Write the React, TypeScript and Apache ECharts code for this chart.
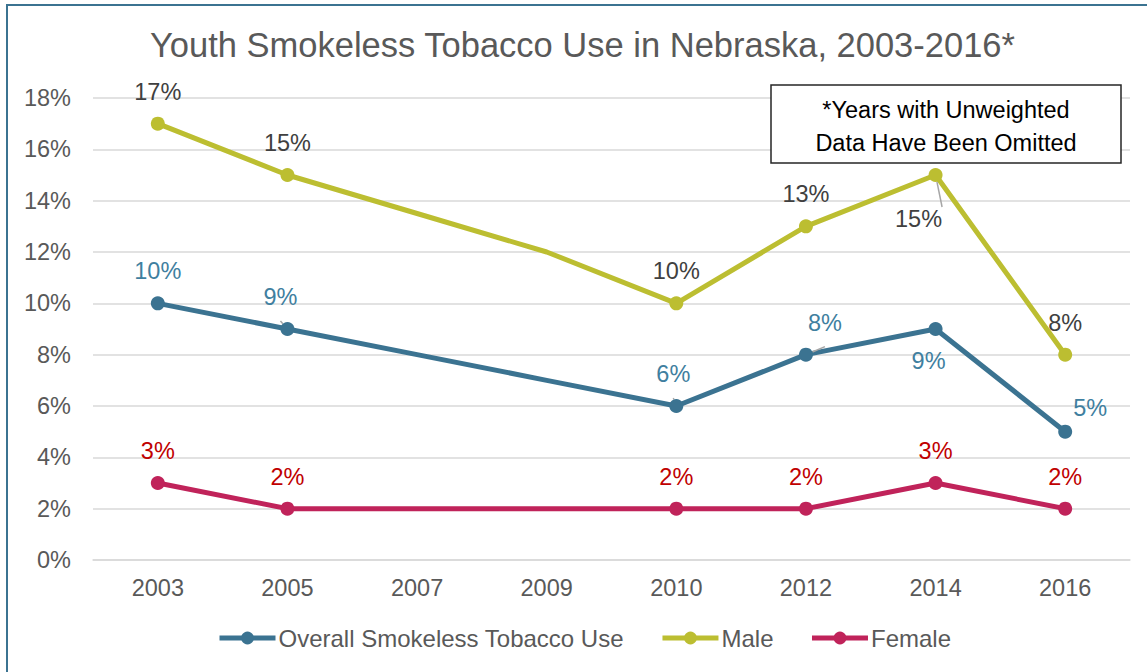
import React, { useEffect, useRef } from "react";
import * as echarts from "echarts";

const years = ["2003", "2005", "2007", "2009", "2010", "2012", "2014", "2016"];
const overall = [10, 9, 8, 7, 6, 8, 9, 5];
const male = [17, 15, 13.5, 12, 10, 13, 15, 8];
const female = [3, 2, 2, 2, 2, 2, 3, 2];
// years with no marker / label (line passes through only)
const hiddenYears = ["2007", "2009"];
const yTicks = [0, 2, 4, 6, 8, 10, 12, 14, 16, 18];

const titleText = "Youth Smokeless Tobacco Use in Nebraska, 2003-2016*";
const noteLines = ["*Years with Unweighted", "Data Have Been Omitted"];
const seriesNames = ["Overall Smokeless Tobacco Use", "Male", "Female"];

const FONT = "'Liberation Sans', Arial, Helvetica, sans-serif";
const C_OVERALL = "#3B7391";
const C_MALE = "#BCBE31";
const C_FEMALE = "#C0235A";
const FS = 23.5;

type LabelTweak = { pos?: string; offset?: [number, number]; line?: boolean };

const overallTweaks: Record<string, LabelTweak> = {
  "2005": { offset: [-7, 0], line: true },
  "2010": { offset: [-3, 0], line: true },
  "2012": { offset: [19, 0], line: true },
  "2014": { pos: "bottom", offset: [-7, 0] },
  "2016": { offset: [25, 8] },
};
const maleTweaks: Record<string, LabelTweak> = {
  "2014": { pos: "bottom", offset: [-17, 12], line: true },
};
const femaleTweaks: Record<string, LabelTweak> = {};

function buildData(values: number[], tweaks: Record<string, LabelTweak>) {
  return values.map((v, i) => {
    const yr = years[i];
    if (hiddenYears.includes(yr)) {
      return { value: v, symbol: "none", label: { show: false } };
    }
    const t = tweaks[yr];
    if (!t) return { value: v };
    const item: any = { value: v, label: {} as any };
    if (t.pos) item.label.position = t.pos;
    if (t.offset) item.label.offset = t.offset;
    if (t.line) item.labelLine = { show: true, lineStyle: { color: "#A6A6A6", width: 1.5 } };
    return item;
  });
}

function makeSeries(name: string, color: string, labelColor: string, values: number[], tweaks: Record<string, LabelTweak>) {
  return {
    name,
    type: "line",
    data: buildData(values, tweaks),
    symbol: "circle",
    symbolSize: 14,
    lineStyle: { color, width: 5 },
    itemStyle: { color },
    label: {
      show: true,
      position: "top",
      distance: 13,
      formatter: (p: any) => `${Math.round(p.value)}%`,
      color: labelColor,
      fontSize: FS,
      fontFamily: FONT,
    },
    emphasis: { disabled: true },
  };
}

export default function App() {
  const ref = useRef<HTMLDivElement>(null);
  useEffect(() => {
    document.body.style.margin = "0";
    if (!ref.current) return;
    const chart = echarts.init(ref.current, null, { renderer: "svg" });
    chart.setOption({
      animation: false,
      backgroundColor: "#ffffff",
      textStyle: { fontFamily: FONT },
      title: {
        text: titleText,
        left: 145,
        top: 22,
        textStyle: { color: "#595959", fontSize: 34.5, fontWeight: "normal", fontFamily: FONT },
      },
      grid: { left: 93, right: 17, top: 98, bottom: 112 },
      xAxis: {
        type: "category",
        data: years,
        boundaryGap: true,
        axisLine: { show: true, lineStyle: { color: "#D9D9D9", width: 1.5 } },
        axisTick: { show: false },
        axisLabel: { color: "#595959", fontSize: FS, fontFamily: FONT, margin: 16 },
      },
      yAxis: {
        type: "value",
        min: yTicks[0],
        max: yTicks[yTicks.length - 1],
        interval: 2,
        axisLine: { show: false },
        axisTick: { show: false },
        axisLabel: { color: "#595959", fontSize: FS, fontFamily: FONT, formatter: "{value}%", margin: 22 },
        splitLine: { lineStyle: { color: "#D9D9D9", width: 1.5 } },
      },
      legend: {
        bottom: 17,
        left: 212,
        itemWidth: 56,
        itemHeight: 16,
        itemGap: 36,
        data: seriesNames,
        lineStyle: { width: 5 },
        textStyle: { color: "#595959", fontSize: 24, fontFamily: FONT, padding: [0, 0, 0, -2] },
      },
      series: [
        makeSeries(seriesNames[0], C_OVERALL, "#3F7FA0", overall, overallTweaks),
        makeSeries(seriesNames[1], C_MALE, "#404040", male, maleTweaks),
        makeSeries(seriesNames[2], C_FEMALE, "#C00000", female, femaleTweaks),
      ],
      graphic: [
        {
          type: "rect",
          z: 100,
          shape: { x: 7, y: 5, width: 1300, height: 800 },
          style: { fill: "none", stroke: C_OVERALL, lineWidth: 2 },
          silent: true,
        },
        {
          type: "rect",
          z: 100,
          shape: { x: 771, y: 85, width: 350, height: 78 },
          style: { fill: "#ffffff", stroke: "#262626", lineWidth: 1.5 },
        },
        {
          type: "text",
          z: 101,
          x: 946,
          y: 110,
          style: { text: noteLines[0], fill: "#000000", fontSize: FS, fontFamily: FONT, align: "center", verticalAlign: "middle" },
        },
        {
          type: "text",
          z: 101,
          x: 946,
          y: 143,
          style: { text: noteLines[1], fill: "#000000", fontSize: FS, fontFamily: FONT, align: "center", verticalAlign: "middle" },
        },
      ],
    });
    return () => chart.dispose();
  }, []);
  return <div ref={ref} style={{ width: 1147, height: 672 }} />;
}
